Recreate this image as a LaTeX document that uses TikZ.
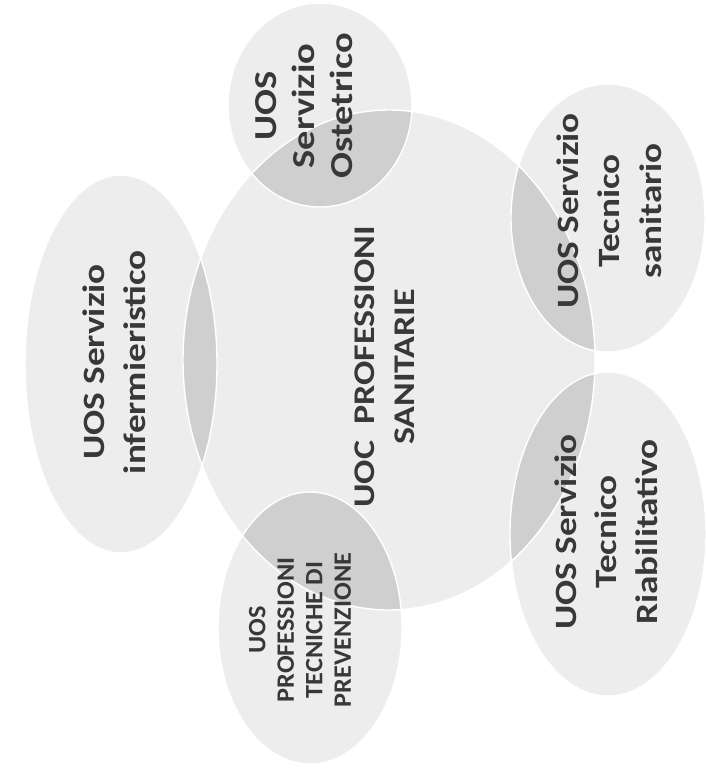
\documentclass[tikz,border=0pt]{standalone}
\usepackage{fontspec}
\setmainfont{Carlito}
\definecolor{disc}{HTML}{EDEDED}
\definecolor{lens}{HTML}{CFCFCF}
\definecolor{ink}{HTML}{383838}
\begin{document}
\begin{tikzpicture}[x=1pt,y=-1pt,
  discfill/.style={fill=disc},
  discedge/.style={draw=white,line width=1.4pt},
  label/.style={rotate=90,xscale=1.2,align=center,text=ink,inner sep=0pt,font=\bfseries}]
\useasboundingbox (0,0) rectangle (706,776);
\fill[white] (0,0) rectangle (706,776);
% circles
\fill[discfill] (389,360) ellipse [x radius=206pt, y radius=250pt];
\fill[discfill] (320,105) ellipse [x radius=92pt, y radius=102pt];
\fill[discfill] (608,218) ellipse [x radius=97pt, y radius=134pt];
\fill[discfill] (608,534) ellipse [x radius=98pt, y radius=162pt];
\fill[discfill] (310,628) ellipse [x radius=92pt, y radius=136pt];
\fill[discfill] (121,364) ellipse [x radius=96pt, y radius=189pt];
% lenses
\begin{scope}
\clip (389,360) ellipse [x radius=206pt, y radius=250pt];
\fill[lens] (320,105) ellipse [x radius=92pt, y radius=102pt];
\fill[lens] (608,218) ellipse [x radius=97pt, y radius=134pt];
\fill[lens] (608,534) ellipse [x radius=98pt, y radius=162pt];
\fill[lens] (310,628) ellipse [x radius=92pt, y radius=136pt];
\fill[lens] (121,364) ellipse [x radius=96pt, y radius=189pt];
\end{scope}
% edges
\draw[discedge] (389,360) ellipse [x radius=206pt, y radius=250pt];
\draw[discedge] (320,105) ellipse [x radius=92pt, y radius=102pt];
\draw[discedge] (608,218) ellipse [x radius=97pt, y radius=134pt];
\draw[discedge] (608,534) ellipse [x radius=98pt, y radius=162pt];
\draw[discedge] (310,628) ellipse [x radius=92pt, y radius=136pt];
\draw[discedge] (121,364) ellipse [x radius=96pt, y radius=189pt];
% texts
\node[label,font=\bfseries\fontsize{30}{40}\selectfont] (uoc) at (385,367) {UOC~~PROFESSIONI\\SANITARIE};
\node[label,font=\bfseries\fontsize{32}{38}\selectfont] (ost) at (304,106) {UOS\\Servizio\\Ostetrico};
\node[label,font=\bfseries\fontsize{31}{41.5}\selectfont] (san) at (609,211) {UOS Servizio\\Tecnico\\sanitario};
\node[label,font=\bfseries\fontsize{31}{40.5}\selectfont] (ria) at (606,532) {UOS Servizio\\Tecnico\\Riabilitativo};
\node[label,xscale=0.875,font=\bfseries\fontsize{25}{28.5}\selectfont] (pre) at (300,630) {UOS\\PROFESSIONI\\TECNICHE DI\\PREVENZIONE};
\node[label,font=\bfseries\fontsize{31}{41}\selectfont] (inf) at (114,362) {UOS Servizio\\infermieristico};
\end{tikzpicture}
\end{document}
